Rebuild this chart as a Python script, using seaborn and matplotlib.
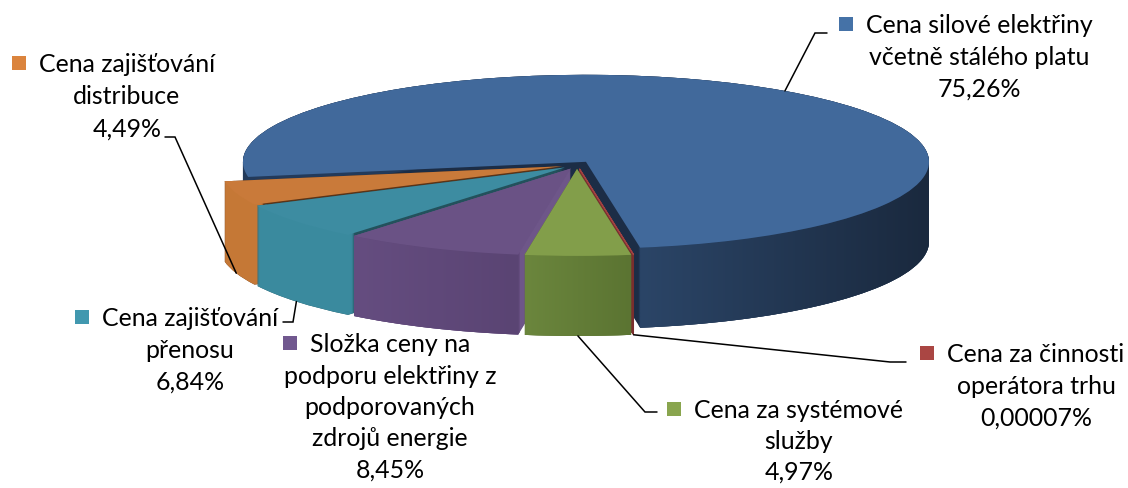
import numpy as np
import matplotlib
matplotlib.use("Agg")
import matplotlib.pyplot as plt
import seaborn as sns
from matplotlib.patches import Rectangle, Polygon
from matplotlib.colors import to_rgb

# ---------------- data ----------------
categories = [
    "Cena silové elektřiny\nvčetně stálého platu",
    "Cena za činnosti\noperátora trhu",
    "Cena za systémové\nslužby",
    "Složka ceny na\npodporu elektřiny z\npodporovaných\nzdrojů energie",
    "Cena zajišťování\npřenosu",
    "Cena zajišťování\ndistribuce",
]
values = [75.26, 0.00007, 4.97, 8.45, 6.84, 4.49]
pct_labels = ["75,26%", "0,00007%", "4,97%", "8,45%", "6,84%", "4,49%"]

# ---------------- style ----------------
key_colors = ["#4572A7", "#AA4643", "#89A54E", "#71588F", "#4198AF", "#DB843D"]
top_colors = ["#41699B", "#A04242", "#829E4A", "#6A5285", "#3D8CA1", "#C97A3A"]
side_colors = ["#233A5A", "#8E3636", "#647D38", "#5E4777", "#3A8A9E", "#C57836"]
face_colors = ["#1C2D46", "#7A2E2E", "#55692F", "#6E5689", "#23515C", "#5A3418"]
side_grad = {0: ("#2B4567", "#1A293E"), 2: ("#6B863D", "#5B7432"), 3: ("#654D80", "#5A4473")}

sns.set_theme(style="white")
plt.rcParams["font.family"] = ["Lato", "DejaVu Sans"]

W, H = 1128, 488
fig = plt.figure(figsize=(W / 100, H / 100), dpi=100)
ax = fig.add_axes([0, 0, 1, 1])

CX, CY, RX, RY, DEPTH = 577, 165, 343, 87, 80
explode = [0.045] * len(values)
rank = {0: 0, 5: 1, 4: 2, 3: 3, 1: 4, 2: 5}   # painter order (back to front)
START = 190
DY = DEPTH / RY

def P(px, py):
    return ((px - CX) / RX, (CY - py) / RY)

pie_kw = dict(explode=explode, startangle=START, counterclock=False, radius=1, normalize=True)

nlay = DEPTH
for li in range(nlay + 1):
    d = DEPTH - li * DEPTH / nlay
    yc = -d / RY
    wf, _ = ax.pie(values, colors=face_colors, center=(0, yc),
                   wedgeprops=dict(linewidth=0), **pie_kw)
    wr, _ = ax.pie(values, colors=side_colors, center=(0, yc),
                   wedgeprops=dict(width=0.03, linewidth=0), **pie_kw)
    for i, w in enumerate(wf):
        w.set_zorder(10 * rank[i] + li * 0.001)
        if i == 1:
            w.set_edgecolor(face_colors[1]); w.set_linewidth(0.8)
    for i, w in enumerate(wr):
        w.set_zorder(10 * rank[i] + 2 + li * 0.001)

wt, _ = ax.pie(values, colors=top_colors, center=(0, 0),
               wedgeprops=dict(linewidth=0), **pie_kw)
for i, w in enumerate(wt):
    w.set_zorder(10 * rank[i] + 5)
    if i == 1:
        w.set_edgecolor(top_colors[1]); w.set_linewidth(0.8)

# horizontal shading of the visible outer walls (front half only)
for i, (cl, cr) in side_grad.items():
    w = wt[i]
    t1, t2 = w.theta1, w.theta2
    lo, hi = max(t1, -180.0), min(t2, 0.0)
    if t1 > 0:
        lo, hi = t1 - 360, min(t2 - 360, 0.0)
    th = np.deg2rad(np.linspace(lo, hi, 120))
    xs = w.center[0] + np.cos(th)
    ys = w.center[1] + np.sin(th)
    poly = np.column_stack([np.r_[xs, xs[::-1]], np.r_[ys, ys[::-1] - DY]])
    clip = Polygon(poly, closed=True, transform=ax.transData, facecolor="none", edgecolor="none")
    ax.add_patch(clip)
    grad = np.linspace(0, 1, 256)[None, :, None]
    img = (1 - grad) * np.array(to_rgb(cl)) + grad * np.array(to_rgb(cr))
    im = ax.imshow(img, extent=[xs.min(), xs.max(), ys.min() - DY, ys.max()],
                   aspect="auto", interpolation="bilinear", zorder=10 * rank[i] + 3)
    im.set_clip_path(clip)

ax.set_aspect("auto")
ax.set_xlim((0 - CX) / RX, (W - CX) / RX)
ax.set_ylim((CY - H) / RY, CY / RY)
ax.axis("off")

# ---------------- anchors for leader lines ----------------
def anchor(i, bottom=True):
    w = wt[i]
    th = np.deg2rad((w.theta1 + w.theta2) / 2)
    x = w.center[0] + np.cos(th)
    y = w.center[1] + np.sin(th)
    if bottom:
        y -= DY
    return x, y

# label layout: (center x, first baseline, line spacing) in pixels
layout = {
    0: (979, 33, 32),
    1: (1036, 362, 32),
    2: (799, 418, 31),
    3: (390, 352, 31.5),
    4: (190, 326, 32),
    5: (127, 72, 32.5),
}
leaders = {
    0: ((815, 33), (827, 33)),
    1: ((890, 362), (906, 362)),
    2: ((645, 412), (657, 412)),
    4: ((293, 322), (283, 322)),
    5: ((175, 137), (165, 137)),
}

renderer = fig.canvas.get_renderer()
probe = ax.text(0, 0, "Cena silové elektřiny", fontsize=16)
wpx = probe.get_window_extent(renderer).width
probe.remove()
FS = 16 * 228 / wpx

for i in range(len(values)):
    cx, b0, sp = layout[i]
    lines = categories[i].split("\n") + [pct_labels[i]]
    first = None
    for k, line in enumerate(lines):
        t = ax.text(*P(cx, b0 + k * sp), line, fontsize=FS, ha="center",
                    va="baseline", color="black", zorder=100)
        if k == 0:
            first = t
    bb = first.get_window_extent(renderer)
    kx = bb.x0 - 13 - 14
    ky = b0 - 2
    x0, y0 = P(kx, ky)
    ax.add_patch(Rectangle((x0, y0), 14 / RX, 14 / RY, facecolor=key_colors[i],
                           edgecolor="none", zorder=100))

for i, (elbow, end) in leaders.items():
    ax_, ay_ = anchor(i, bottom=(i != 0))
    ex, ey = P(*elbow)
    hx, hy = P(*end)
    ax.plot([ax_, ex, hx], [ay_, ey, hy], color="black", lw=1.1, zorder=90,
            solid_joinstyle="miter")

fig.savefig("out.png", dpi=100)
